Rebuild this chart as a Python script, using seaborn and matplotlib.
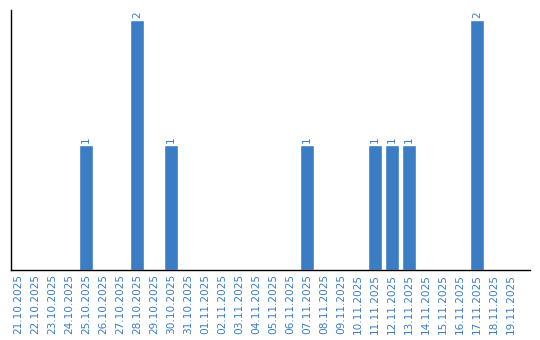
import matplotlib
matplotlib.use("Agg")
import matplotlib.pyplot as plt
import seaborn as sns
import pandas as pd

dates = ["21.10.2025", "22.10.2025", "23.10.2025", "24.10.2025", "25.10.2025",
         "26.10.2025", "27.10.2025", "28.10.2025", "29.10.2025", "30.10.2025",
         "31.10.2025", "01.11.2025", "02.11.2025", "03.11.2025", "04.11.2025",
         "05.11.2025", "06.11.2025", "07.11.2025", "08.11.2025", "09.11.2025",
         "10.11.2025", "11.11.2025", "12.11.2025", "13.11.2025", "14.11.2025",
         "15.11.2025", "16.11.2025", "17.11.2025", "18.11.2025", "19.11.2025"]
counts = [0, 0, 0, 0, 1, 0, 0, 2, 0, 1,
          0, 0, 0, 0, 0, 0, 0, 1, 0, 0,
          0, 1, 1, 1, 0, 0, 0, 2, 0, 0]

blue = "#3a7dc4"
sns.set_style("white")
plt.rcParams['font.family'] = ['DejaVu Sans']

df = pd.DataFrame({"date": dates, "count": counts})
fig = plt.figure(figsize=(5.4, 3.4), dpi=100)
ax = fig.add_axes([11/540, 70/340, 519/540, 260/340])
sns.barplot(data=df, x="date", y="count", color=blue, width=0.82,
            saturation=1, ax=ax, order=dates)
for p, v in zip(ax.patches, counts):
    if v > 0:
        ax.text(p.get_x() + p.get_width()/2, v + 0.015, str(v), rotation=90,
                ha="center", va="bottom", color=blue, fontsize=7.5)
ax.set_xlim(-0.41, 30.1)
ax.set_ylim(0, 2.08)
ax.set_xlabel("")
ax.set_ylabel("")
ax.set_yticks([])
ax.tick_params(axis="x", length=0, pad=3, labelsize=7.6, labelcolor=blue, rotation=90)
for s in ["top", "right"]:
    ax.spines[s].set_visible(False)
for s in ["left", "bottom"]:
    ax.spines[s].set_color("black")
    ax.spines[s].set_linewidth(1)
fig.savefig("out.png", dpi=100)
